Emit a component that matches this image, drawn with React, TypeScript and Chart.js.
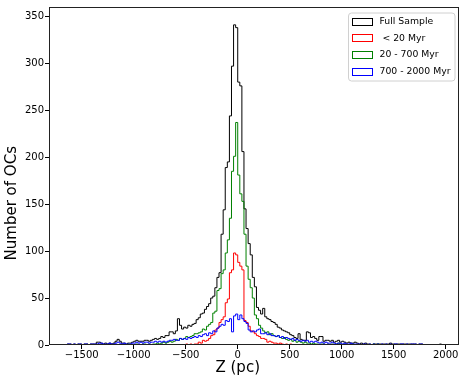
import React, { useEffect, useRef } from "react";
import { Chart, registerables } from "chart.js";

Chart.register(...registerables);

// Histogram bins (pc)
const BIN_START = -1660;
const BIN_WIDTH = 20;

const X_TICKS = [-1500, -1000, -500, 0, 500, 1000, 1500, 2000];
const Y_TICKS = [0, 50, 100, 150, 200, 250, 300, 350];

const X_TITLE = "Z (pc)";
const Y_TITLE = "Number of OCs";

const SERIES_LABELS = ["Full Sample", " < 20 Myr", "20 - 700 Myr", "700 - 2000 Myr"];
const SERIES_COLORS = ["#000000", "#ff0000", "#008000", "#0000ff"];

// Full sample counts per bin
const FULL_SAMPLE = [
  0, 1, 1, 0, 1, 0, 1, 1, 0, 1,
  1, 0, 1, 1, 1, 3, 3, 2, 1, 2,
  1, 2, 1, 2, 4, 6, 4, 2, 2, 1,
  2, 2, 3, 4, 5, 4, 4,
  4, 5, 5, 4, 5, 6, 7, 6, 7, 9,
  8, 10, 10, 14, 14, 12, 15, 28, 21, 17,
  19, 18, 21, 20, 22, 23, 27, 29, 33, 34,
  38, 41, 44, 50, 52, 61, 72, 77, 118, 144,
  189, 195, 244, 297, 341, 338, 280, 276, 206, 145,
  124, 108, 96, 72, 62, 40, 37, 33, 39, 30,
  28, 27, 25, 24, 22, 19, 18, 16, 15, 14,
  13, 11, 10, 8, 7, 12, 6, 5, 5, 14,
  13, 8, 9, 7, 5, 9, 9, 4, 5, 5,
  4, 5, 3, 4, 5, 3, 4, 3, 2, 3,
  2, 2, 3, 2, 1, 2, 1, 2, 1, 1,
  0, 1, 1, 1, 1, 1, 1, 1, 1, 2,
  1, 1, 1, 1, 1, 1, 1, 1, 1, 1,
  1, 1, 0, 1, 1, 0, 0, 0, 0, 0,
  0, 0, 0, 1,
];

// < 20 Myr counts per bin
const YOUNG = [
  0, 0, 0, 0, 0, 0, 0, 0, 0, 0,
  0, 0, 0, 0, 0, 0, 0, 0, 0, 0,
  0, 0, 0, 0, 0, 0, 0, 0, 0, 0,
  0, 0, 0, 0, 0, 0, 0,
  0, 0, 0, 0, 0, 0, 0, 0, 0, 0,
  0, 0, 0, 0, 0, 0, 0, 0, 0, 0,
  0, 1, 0, 1, 0, 1, 1, 3, 2, 5,
  4, 5, 7, 10, 11, 16, 18, 24, 27, 30,
  45, 49, 77, 80, 98, 96, 88, 84, 80, 26,
  24, 20, 15, 14, 12, 10, 9, 7, 7, 6,
  3, 4, 3, 2, 2, 1, 2, 1, 0, 1,
  0, 1, 0, 0, 0, 0, 0, 0, 0, 0,
  0, 0, 0, 0, 0, 0, 0, 0, 0, 0,
  0, 0, 0, 0, 0, 0, 0, 0, 0, 0,
  0, 0, 0, 0, 0, 0, 0, 0, 0, 0,
  0, 0, 0, 0, 0, 0, 0, 0, 0, 0,
  0, 0, 0, 0, 0, 0, 0, 0, 0, 0,
  0, 0, 0, 0, 0, 0, 0, 0, 0, 0,
  0, 0, 0, 0,
];

// 20 - 700 Myr counts per bin
const INTERMEDIATE = [
  0, 0, 0, 0, 0, 0, 0, 0, 0, 0,
  0, 0, 0, 0, 0, 0, 0, 0, 0, 0,
  0, 0, 0, 0, 0, 0, 0, 0, 0, 0,
  1, 0, 0, 0, 1, 0, 0,
  1, 1, 0, 1, 0, 1, 1, 2, 1, 2,
  3, 2, 3, 4, 3, 4, 6, 5, 7, 6,
  7, 9, 8, 9, 10, 12, 12, 13, 14, 17,
  16, 20, 22, 24, 34, 36, 58, 60, 76, 80,
  98, 112, 135, 185, 201, 237, 181, 161, 153, 118,
  84, 70, 61, 50, 32, 28, 21, 18, 15, 13,
  14, 11, 12, 10, 9, 10, 8, 7, 8, 6,
  5, 6, 4, 5, 3, 4, 3, 2, 3, 2,
  2, 1, 2, 1, 1, 0, 1, 1, 0, 1,
  0, 1, 0, 1, 2, 1, 0, 1, 0, 0,
  0, 1, 0, 0, 0, 0, 0, 0, 0, 0,
  0, 1, 0, 1, 0, 0, 0, 0, 0, 0,
  0, 0, 0, 0, 0, 0, 0, 0, 0, 0,
  0, 0, 0, 0, 0, 0, 0, 0, 0, 0,
  0, 0, 0, 0,
];

// 700 - 2000 Myr counts per bin
const OLD = [
  0, 1, 1, 0, 1, 0, 1, 1, 0, 1,
  1, 0, 1, 1, 1, 1, 2, 2, 1, 1,
  1, 2, 1, 1, 2, 3, 2, 1, 2, 1,
  1, 1, 2, 2, 3, 2, 3,
  2, 3, 3, 2, 3, 3, 4, 3, 4, 3,
  4, 3, 4, 5, 5, 6, 5, 5, 7, 6,
  7, 6, 8, 7, 8, 9, 8, 10, 9, 11,
  12, 10, 13, 12, 15, 14, 18, 20, 22, 21,
  26, 25, 28, 14, 31, 33, 27, 32, 28, 25,
  23, 16, 14, 15, 14, 16, 17, 12, 12, 13,
  11, 12, 10, 10, 9, 10, 8, 9, 7, 8,
  7, 6, 7, 5, 6, 5, 4, 5, 4, 5,
  3, 4, 3, 4, 3, 2, 3, 2, 3, 2,
  2, 3, 2, 1, 2, 2, 1, 2, 1, 1,
  2, 1, 1, 1, 1, 0, 1, 1, 0, 1,
  0, 1, 0, 1, 0, 1, 0, 1, 0, 1,
  0, 1, 1, 0, 1, 1, 0, 1, 0, 1,
  1, 1, 0, 1, 1, 0, 0, 0, 0, 0,
  0, 0, 0, 0,
];

const ALL_SERIES = [FULL_SAMPLE, YOUNG, INTERMEDIATE, OLD];

const FONT = "DejaVu Sans";

function stepPoints(counts: number[]) {
  let first = counts.findIndex((c) => c > 0);
  let last = counts.length - 1;
  while (last > 0 && counts[last] === 0) last--;
  if (first < 0) first = 0;
  const pts: { x: number; y: number }[] = [];
  pts.push({ x: BIN_START + first * BIN_WIDTH, y: 0 });
  for (let i = first; i <= last; i++) {
    pts.push({ x: BIN_START + i * BIN_WIDTH, y: counts[i] });
  }
  const end = BIN_START + (last + 1) * BIN_WIDTH;
  pts.push({ x: end, y: counts[last] });
  pts.push({ x: end, y: 0 });
  return pts;
}

function fmt(v: number) {
  return v < 0 ? "\u2212" + Math.abs(v) : String(v);
}

const framePlugin = {
  id: "frame",
  afterDatasetsDraw(chart: any) {
    const { ctx, chartArea } = chart;
    ctx.save();
    ctx.strokeStyle = "#222";
    ctx.lineWidth = 1;
    const l = Math.round(chartArea.left) + 0.5;
    const t = Math.round(chartArea.top) + 0.5;
    const r = Math.round(chartArea.right) - 0.5;
    const b = Math.round(chartArea.bottom) - 0.5;
    ctx.strokeRect(l, t, r - l, b - t);
    ctx.restore();
  },
};

// Axis titles, placed where they sit in the original figure
const titlePlugin = {
  id: "axisTitles",
  afterDraw(chart: any) {
    const { ctx } = chart;
    const xs = chart.scales.x;
    const ys = chart.scales.y;
    ctx.save();
    ctx.fillStyle = "#000";
    ctx.font = `15px "${FONT}"`;
    ctx.textAlign = "center";
    ctx.textBaseline = "middle";
    ctx.fillText(X_TITLE, xs.getPixelForValue(0), 368);
    ctx.translate(12, ys.getPixelForValue(151));
    ctx.rotate(-Math.PI / 2);
    ctx.fillText(Y_TITLE, 0, 0);
    ctx.restore();
  },
};

const legendPlugin = {
  id: "boxLegend",
  afterDraw(chart: any) {
    const { ctx, chartArea } = chart;
    const w = 106.5;
    const h = 68;
    const x = chartArea.right - 4 - w;
    const y = chartArea.top + 6;
    ctx.save();
    ctx.beginPath();
    const rr = 3;
    ctx.moveTo(x + rr, y);
    ctx.lineTo(x + w - rr, y);
    ctx.quadraticCurveTo(x + w, y, x + w, y + rr);
    ctx.lineTo(x + w, y + h - rr);
    ctx.quadraticCurveTo(x + w, y + h, x + w - rr, y + h);
    ctx.lineTo(x + rr, y + h);
    ctx.quadraticCurveTo(x, y + h, x, y + h - rr);
    ctx.lineTo(x, y + rr);
    ctx.quadraticCurveTo(x, y, x + rr, y);
    ctx.closePath();
    ctx.fillStyle = "rgba(255,255,255,0.85)";
    ctx.fill();
    ctx.strokeStyle = "#d0d0d0";
    ctx.lineWidth = 1;
    ctx.stroke();

    chart.data.datasets.forEach((ds: any, i: number) => {
      const cy = y + 8 + i * 16.7;
      ctx.strokeStyle = ds.borderColor;
      ctx.lineWidth = 1;
      ctx.strokeRect(Math.round(x + 3.5) + 0.5, Math.round(cy - 3.5) + 0.5, 20, 7);
      ctx.fillStyle = "#000";
      ctx.font = `9.3px "${FONT}"`;
      ctx.textBaseline = "middle";
      ctx.textAlign = "left";
      ctx.fillText(ds.label, x + 31, cy + 0.5);
    });
    ctx.restore();
  },
};

export default function App() {
  const ref = useRef<HTMLCanvasElement | null>(null);

  useEffect(() => {
    if (!ref.current) return;
    const datasets = ALL_SERIES.map((s, i) => ({
      label: SERIES_LABELS[i],
      data: stepPoints(s),
      borderColor: SERIES_COLORS[i],
      backgroundColor: "rgba(0,0,0,0)",
      borderWidth: 1,
      stepped: "before" as const,
      pointRadius: 0,
      fill: false,
      order: ALL_SERIES.length - i,
    }));

    const chart = new Chart(ref.current, {
      type: "line",
      data: { datasets },
      options: {
        animation: false,
        responsive: false,
        devicePixelRatio: 1,
        layout: { padding: { top: 3, right: 4, left: 0, bottom: 0 } },
        plugins: {
          legend: { display: false },
          tooltip: { enabled: false },
        },
        scales: {
          x: {
            type: "linear",
            min: -1815,
            max: 2128,
            afterBuildTicks: (s: any) => {
              s.ticks = X_TICKS.map((v) => ({ value: v }));
            },
            afterFit: (s: any) => {
              s.height = 36;
            },
            grid: {
              drawOnChartArea: false,
              drawTicks: true,
              tickLength: 4,
              tickColor: "#000",
            },
            border: { display: false },
            ticks: {
              padding: 0,
              color: "#000",
              autoSkip: false,
              maxRotation: 0,
              font: { family: FONT, size: 10 },
              callback: (v: any) => fmt(Number(v)),
            },
            title: { display: false },
          },
          y: {
            type: "linear",
            min: 0,
            max: 360,
            afterBuildTicks: (s: any) => {
              s.ticks = Y_TICKS.map((v) => ({ value: v }));
            },
            afterFit: (s: any) => {
              s.width = 49;
            },
            grid: {
              drawOnChartArea: false,
              drawTicks: true,
              tickLength: 4,
              tickColor: "#000",
            },
            border: { display: false },
            ticks: {
              padding: 1,
              color: "#000",
              autoSkip: false,
              font: { family: FONT, size: 10 },
              callback: (v: any) => fmt(Number(v)),
            },
            title: { display: false },
          },
        },
      },
      plugins: [framePlugin, titlePlugin, legendPlugin],
    } as any);

    return () => chart.destroy();
  }, []);

  return (
    <div style={{ position: "absolute", left: 0, top: 0, width: 463, height: 381, background: "#fff" }}>
      <canvas ref={ref} width={463} height={381} style={{ display: "block" }} />
    </div>
  );
}
